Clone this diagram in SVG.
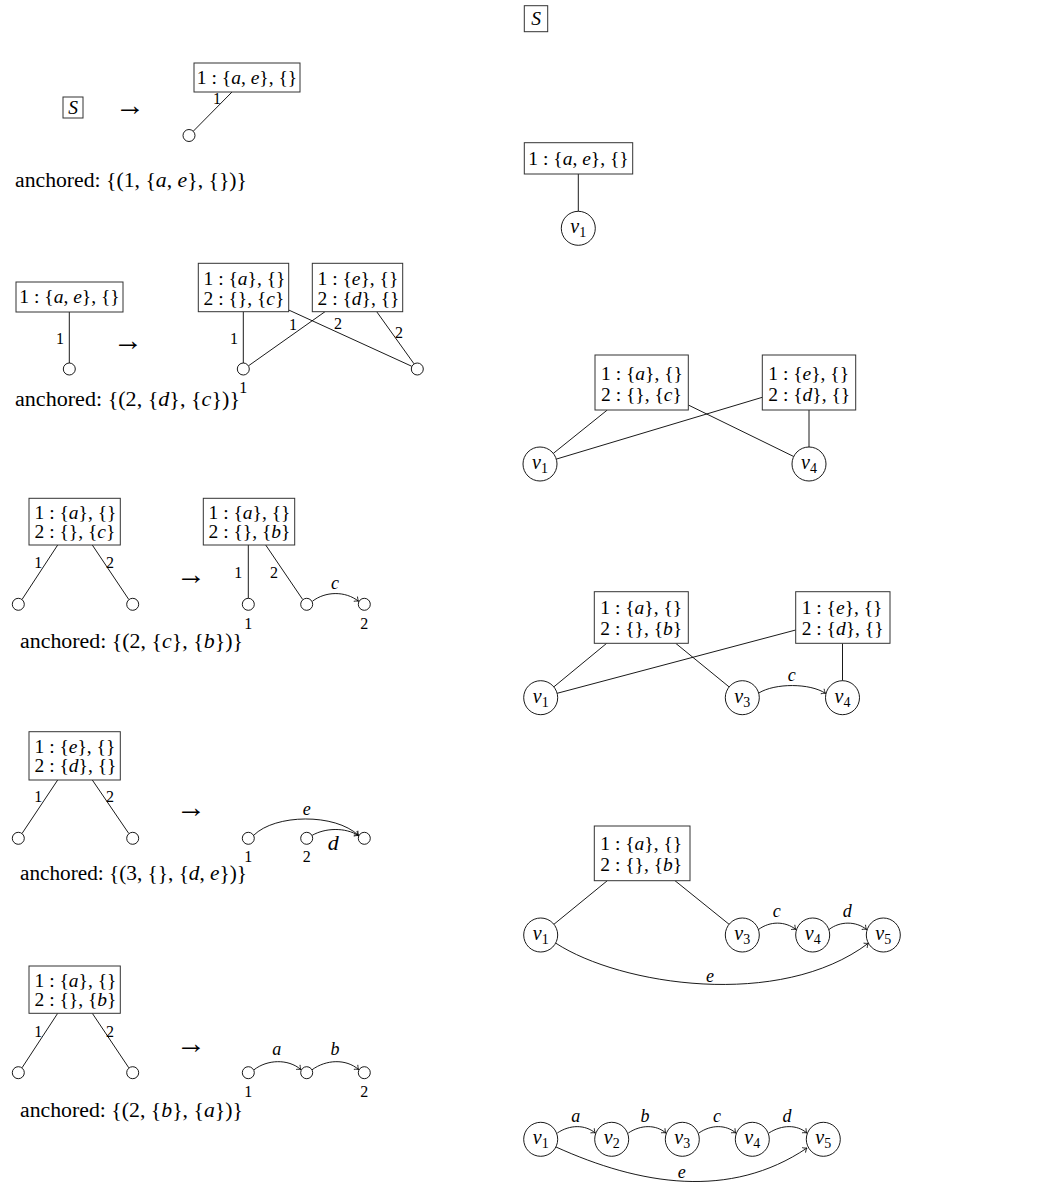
<svg xmlns="http://www.w3.org/2000/svg" width="1037" height="1182" viewBox="0 0 1037 1182">
<style>
.bg{fill:#fff}
.box{fill:#fff;stroke:#333;stroke-width:1}
.ln{fill:none;stroke:#000;stroke-width:0.9}
.arr{fill:none;stroke:#000;stroke-width:0.9;marker-end:url(#tip)}
.c{fill:#fff;stroke:#000;stroke-width:0.9}
text{font-family:"Liberation Serif","DejaVu Serif",serif;fill:#000}
.t{font-size:19.5px}
.an{font-size:20px}
.l{font-size:16px;text-anchor:middle}
.el{font-size:18px;font-style:italic;text-anchor:middle}
.v{font-size:20px;text-anchor:middle}
.sub{font-size:14px;font-style:normal}
.i{font-style:italic}
.to{font-size:30px;text-anchor:middle}
.m{text-anchor:middle}
</style>
<defs>
<marker id="tip" viewBox="-5 -4 6 8" refX="0" refY="0" markerWidth="6" markerHeight="8" markerUnits="userSpaceOnUse" orient="auto">
<path d="M-3.8,-3 C-2.2,-1.2 -0.8,-0.4 0,0 C-0.8,0.4 -2.2,1.2 -3.8,3" fill="none" stroke="#000" stroke-width="0.8"/>
</marker>
</defs>
<rect class="bg" x="0" y="0" width="1037" height="1182"/>

<!-- connectors -->
<g id="connectors">
<line class="ln" x1="232" y1="92" x2="193.3" y2="131.2"/>
<line class="ln" x1="69.3" y1="312" x2="69.3" y2="363"/>
<line class="ln" x1="243.3" y1="311.7" x2="243.3" y2="363"/>
<line class="ln" x1="325" y1="311.7" x2="248.5" y2="365.8"/>
<line class="ln" x1="288.7" y1="310" x2="411.8" y2="366.3"/>
<line class="ln" x1="376.7" y1="311.7" x2="414" y2="363.8"/>
<line class="ln" x1="57.7" y1="545" x2="22" y2="599.5"/>
<line class="ln" x1="92.3" y1="545" x2="128.8" y2="599.5"/>
<line class="ln" x1="248.3" y1="545" x2="248.3" y2="598.3"/>
<line class="ln" x1="265.7" y1="545" x2="302.7" y2="599.5"/>
<path class="arr" d="M312.5,601.2 C325,591.5 345,590.5 358.6,601.3"/>
<line class="ln" x1="57.7" y1="780" x2="22" y2="833.5"/>
<line class="ln" x1="92.3" y1="780" x2="128.8" y2="833.5"/>
<path class="arr" d="M253.7,835.3 C275,814 335,813 358.6,835.5"/>
<path class="arr" d="M312.2,835.3 C325,828 345,827 358.6,835.6"/>
<line class="ln" x1="57.7" y1="1013.3" x2="22" y2="1067.8"/>
<line class="ln" x1="92.3" y1="1013.3" x2="128.8" y2="1067.8"/>
<path class="arr" d="M254,1069.8 C267,1059.5 288,1058.5 301,1069.6"/>
<path class="arr" d="M312,1069.8 C326,1059.5 346,1058.5 358.7,1069.6"/>
<line class="ln" x1="578.3" y1="174" x2="578.3" y2="211.3"/>
<line class="ln" x1="607.3" y1="410" x2="553.3" y2="453.4"/>
<line class="ln" x1="762.3" y1="397.3" x2="556.3" y2="459.1"/>
<line class="ln" x1="688.3" y1="405" x2="793.7" y2="456.5"/>
<line class="ln" x1="809" y1="410" x2="809" y2="447"/>
<line class="ln" x1="606.7" y1="643.3" x2="553.8" y2="686.9"/>
<line class="ln" x1="795.7" y1="630" x2="557.1" y2="693.3"/>
<line class="ln" x1="675.7" y1="643.3" x2="729.1" y2="686.9"/>
<line class="ln" x1="842.5" y1="643.3" x2="842.5" y2="680.7"/>
<path class="arr" d="M758.8,693 C775,683 810,683 825.6,693.4"/>
<line class="ln" x1="607.3" y1="880.7" x2="553.9" y2="924.3"/>
<line class="ln" x1="675" y1="880.7" x2="729.1" y2="924.3"/>
<path class="arr" d="M758.5,929.5 C770,921 785,921 796,929.5"/>
<path class="arr" d="M829,929.5 C840,921 856,921 866.6,929.5"/>
<path class="arr" d="M556,943.3 C620,985 780,1010 868.4,943.2"/>
<path class="arr" d="M557.3,1133 C570,1124.5 585,1124.5 595.3,1133"/>
<path class="arr" d="M628.3,1133 C641,1124.5 656,1124.5 665.9,1133"/>
<path class="arr" d="M698.9,1133 C711,1124.5 726,1124.5 735.9,1133"/>
<path class="arr" d="M768.9,1133 C782,1124.5 797,1124.5 806.9,1133"/>
<path class="arr" d="M556,1147 C640,1185 730,1200 807,1148"/>
</g>

<!-- edge labels -->
<g id="edge-labels">
<text class="l" x="217" y="104">1</text>
<text class="l" x="60" y="343.5">1</text>
<text class="l" x="234" y="343.5">1</text>
<text class="l" x="293" y="329.5">1</text>
<text class="l" x="338" y="328.5">2</text>
<text class="l" x="399" y="337.5">2</text>
<text class="l" x="243.3" y="392.5">1</text>
<text class="l" x="38.3" y="567.5">1</text>
<text class="l" x="110" y="567.5">2</text>
<text class="l" x="238.3" y="577.5">1</text>
<text class="l" x="274" y="577.5">2</text>
<text class="el" x="335" y="589">c</text>
<text class="l" x="248.3" y="628.5">1</text>
<text class="l" x="364.3" y="628.5">2</text>
<text class="l" x="38.3" y="802">1</text>
<text class="l" x="110" y="802">2</text>
<text class="el" x="306.7" y="815">e</text>
<text class="el" x="333.3" y="850" style="font-size:22px">d</text>
<text class="l" x="248.3" y="862">1</text>
<text class="l" x="306.7" y="862">2</text>
<text class="l" x="38.3" y="1037">1</text>
<text class="l" x="110" y="1037">2</text>
<text class="el" x="276.7" y="1055">a</text>
<text class="el" x="335" y="1055">b</text>
<text class="l" x="248.3" y="1097">1</text>
<text class="l" x="364.3" y="1097">2</text>
<text class="el" x="791.7" y="681">c</text>
<text class="el" x="776.7" y="917">c</text>
<text class="el" x="847.3" y="917">d</text>
<text class="el" x="710" y="982">e</text>
<text class="el" x="575.7" y="1122">a</text>
<text class="el" x="645" y="1122">b</text>
<text class="el" x="717" y="1122">c</text>
<text class="el" x="787" y="1122">d</text>
<text class="el" x="681.7" y="1178">e</text>
</g>

<!-- arrows between stages -->
<g id="transitions">
<text class="to" x="130" y="115">→</text>
<text class="to" x="128" y="350">→</text>
<text class="to" x="191" y="584">→</text>
<text class="to" x="191" y="817">→</text>
<text class="to" x="191" y="1053">→</text>
</g>

<!-- anchored captions -->
<g id="captions">
<text class="an" x="15" y="187" textLength="232" lengthAdjust="spacingAndGlyphs">anchored: {(1, {<tspan class="i">a</tspan>, <tspan class="i">e</tspan>}, {})}</text>
<text class="an" x="15" y="406" textLength="225" lengthAdjust="spacingAndGlyphs">anchored: {(2, {<tspan class="i">d</tspan>}, {<tspan class="i">c</tspan>})}</text>
<text class="an" x="20" y="648" textLength="223" lengthAdjust="spacingAndGlyphs">anchored: {(2, {<tspan class="i">c</tspan>}, {<tspan class="i">b</tspan>})}</text>
<text class="an" x="20" y="879.5" textLength="227" lengthAdjust="spacingAndGlyphs">anchored: {(3, {}, {<tspan class="i">d</tspan>, <tspan class="i">e</tspan>})}</text>
<text class="an" x="20" y="1116.7" textLength="223" lengthAdjust="spacingAndGlyphs">anchored: {(2, {<tspan class="i">b</tspan>}, {<tspan class="i">a</tspan>})}</text>
</g>

<g id="L1-S"><rect class="box" x="63" y="97" width="20" height="21"/><text class="t m i" x="73" y="113.5">S</text></g>
<g id="L1-box"><rect class="box" x="194" y="63" width="106" height="29"/><text class="t m" x="247" y="84">1 : {<tspan class="i">a</tspan>, <tspan class="i">e</tspan>}, {}</text></g>
<g id="L1-n1"><circle class="c" cx="189" cy="135.5" r="6"/></g>

<g id="L2-box"><rect class="box" x="16" y="282" width="107" height="30"/><text class="t m" x="69.5" y="303">1 : {<tspan class="i">a</tspan>, <tspan class="i">e</tspan>}, {}</text></g>
<g id="L2-n"><circle class="c" cx="69.3" cy="369" r="6"/></g>
<g id="L2-boxA"><rect class="box" x="198.3" y="263.3" width="90.4" height="48.4"/><text class="t" x="203.5" y="285">1 : {<tspan class="i">a</tspan>}, {}</text><text class="t" x="203.5" y="305">2 : {}, {<tspan class="i">c</tspan>}</text></g>
<g id="L2-boxB"><rect class="box" x="312.3" y="263.3" width="90.4" height="48.4"/><text class="t" x="317.5" y="285">1 : {<tspan class="i">e</tspan>}, {}</text><text class="t" x="317.5" y="305">2 : {<tspan class="i">d</tspan>}, {}</text></g>
<g id="L2-n1"><circle class="c" cx="243.3" cy="369" r="6"/></g>
<g id="L2-n2"><circle class="c" cx="417.3" cy="369" r="6"/></g>

<g id="L3-box"><rect class="box" x="29" y="498.3" width="91.3" height="46.7"/><text class="t" x="34.5" y="519">1 : {<tspan class="i">a</tspan>}, {}</text><text class="t" x="34.5" y="538">2 : {}, {<tspan class="i">c</tspan>}</text></g>
<g id="L3-n1"><circle class="c" cx="18.3" cy="604.3" r="6"/></g>
<g id="L3-n2"><circle class="c" cx="132.7" cy="604.3" r="6"/></g>
<g id="L3-boxR"><rect class="box" x="203.3" y="498.3" width="91.4" height="46.7"/><text class="t" x="208.5" y="519">1 : {<tspan class="i">a</tspan>}, {}</text><text class="t" x="208.5" y="538">2 : {}, {<tspan class="i">b</tspan>}</text></g>
<g id="L3-r1"><circle class="c" cx="248.3" cy="604.3" r="6"/></g>
<g id="L3-r2"><circle class="c" cx="306.7" cy="604.3" r="6"/></g>
<g id="L3-r3"><circle class="c" cx="364.3" cy="604.3" r="6"/></g>

<g id="L4-box"><rect class="box" x="29" y="731.7" width="91.3" height="48.3"/><text class="t" x="34.5" y="752.5">1 : {<tspan class="i">e</tspan>}, {}</text><text class="t" x="34.5" y="771.5">2 : {<tspan class="i">d</tspan>}, {}</text></g>
<g id="L4-n1"><circle class="c" cx="18.3" cy="838.3" r="6"/></g>
<g id="L4-n2"><circle class="c" cx="132.7" cy="838.3" r="6"/></g>
<g id="L4-r1"><circle class="c" cx="248.3" cy="838.3" r="6"/></g>
<g id="L4-r2"><circle class="c" cx="306.7" cy="838.3" r="6"/></g>
<g id="L4-r3"><circle class="c" cx="364.3" cy="838.3" r="6"/></g>

<g id="L5-box"><rect class="box" x="29" y="966" width="91.3" height="47.3"/><text class="t" x="34.5" y="987">1 : {<tspan class="i">a</tspan>}, {}</text><text class="t" x="34.5" y="1006">2 : {}, {<tspan class="i">b</tspan>}</text></g>
<g id="L5-n1"><circle class="c" cx="18.3" cy="1072.7" r="6"/></g>
<g id="L5-n2"><circle class="c" cx="132.7" cy="1072.7" r="6"/></g>
<g id="L5-r1"><circle class="c" cx="248.3" cy="1072.7" r="6"/></g>
<g id="L5-r2"><circle class="c" cx="306.7" cy="1072.7" r="6"/></g>
<g id="L5-r3"><circle class="c" cx="364.3" cy="1072.7" r="6"/></g>

<g id="R0-S"><rect class="box" x="524.3" y="5.7" width="23.4" height="26"/><text class="t m i" x="536" y="25">S</text></g>
<g id="R1-box"><rect class="box" x="524.3" y="142.7" width="108.4" height="31.3"/><text class="t m" x="578.5" y="165">1 : {<tspan class="i">a</tspan>, <tspan class="i">e</tspan>}, {}</text></g>
<g id="R1-v1"><circle class="c" cx="578.3" cy="228.3" r="17"/><text class="v" x="578.3" y="233"><tspan class="i">v</tspan><tspan class="sub" dy="4">1</tspan></text></g>

<g id="R2-boxA"><rect class="box" x="595" y="355" width="93.3" height="55"/><text class="t" x="601" y="379.5">1 : {<tspan class="i">a</tspan>}, {}</text><text class="t" x="601" y="401">2 : {}, {<tspan class="i">c</tspan>}</text></g>
<g id="R2-boxB"><rect class="box" x="762.3" y="355" width="93.4" height="55"/><text class="t" x="768.3" y="379.5">1 : {<tspan class="i">e</tspan>}, {}</text><text class="t" x="768.3" y="401">2 : {<tspan class="i">d</tspan>}, {}</text></g>
<g id="R2-v1"><circle class="c" cx="540" cy="464" r="17"/><text class="v" x="540" y="469"><tspan class="i">v</tspan><tspan class="sub" dy="4">1</tspan></text></g>
<g id="R2-v4"><circle class="c" cx="809" cy="464" r="17"/><text class="v" x="809" y="469"><tspan class="i">v</tspan><tspan class="sub" dy="4">4</tspan></text></g>

<g id="R3-boxA"><rect class="box" x="594.3" y="591.7" width="94" height="51.6"/><text class="t" x="600.3" y="613.5">1 : {<tspan class="i">a</tspan>}, {}</text><text class="t" x="600.3" y="634.5">2 : {}, {<tspan class="i">b</tspan>}</text></g>
<g id="R3-boxB"><rect class="box" x="795.7" y="591.7" width="94.3" height="51.6"/><text class="t" x="801.7" y="613.5">1 : {<tspan class="i">e</tspan>}, {}</text><text class="t" x="801.7" y="634.5">2 : {<tspan class="i">d</tspan>}, {}</text></g>
<g id="R3-v1"><circle class="c" cx="540.7" cy="697.7" r="17"/><text class="v" x="540.7" y="702.7"><tspan class="i">v</tspan><tspan class="sub" dy="4">1</tspan></text></g>
<g id="R3-v3"><circle class="c" cx="742.3" cy="697.7" r="17"/><text class="v" x="742.3" y="702.7"><tspan class="i">v</tspan><tspan class="sub" dy="4">3</tspan></text></g>
<g id="R3-v4"><circle class="c" cx="842.5" cy="697.7" r="17"/><text class="v" x="842.5" y="702.7"><tspan class="i">v</tspan><tspan class="sub" dy="4">4</tspan></text></g>

<g id="R4-box"><rect class="box" x="594.3" y="826" width="95.7" height="54.7"/><text class="t" x="600.3" y="849.5">1 : {<tspan class="i">a</tspan>}, {}</text><text class="t" x="600.3" y="871">2 : {}, {<tspan class="i">b</tspan>}</text></g>
<g id="R4-v1"><circle class="c" cx="540.7" cy="935" r="17"/><text class="v" x="540.7" y="940"><tspan class="i">v</tspan><tspan class="sub" dy="4">1</tspan></text></g>
<g id="R4-v3"><circle class="c" cx="742.3" cy="935" r="17"/><text class="v" x="742.3" y="940"><tspan class="i">v</tspan><tspan class="sub" dy="4">3</tspan></text></g>
<g id="R4-v4"><circle class="c" cx="812.7" cy="935" r="17"/><text class="v" x="812.7" y="940"><tspan class="i">v</tspan><tspan class="sub" dy="4">4</tspan></text></g>
<g id="R4-v5"><circle class="c" cx="883.3" cy="935" r="17"/><text class="v" x="883.3" y="940"><tspan class="i">v</tspan><tspan class="sub" dy="4">5</tspan></text></g>

<g id="R5-v1"><circle class="c" cx="540.7" cy="1139.3" r="17"/><text class="v" x="540.7" y="1144.3"><tspan class="i">v</tspan><tspan class="sub" dy="4">1</tspan></text></g>
<g id="R5-v2"><circle class="c" cx="611.7" cy="1139.3" r="17"/><text class="v" x="611.7" y="1144.3"><tspan class="i">v</tspan><tspan class="sub" dy="4">2</tspan></text></g>
<g id="R5-v3"><circle class="c" cx="682.3" cy="1139.3" r="17"/><text class="v" x="682.3" y="1144.3"><tspan class="i">v</tspan><tspan class="sub" dy="4">3</tspan></text></g>
<g id="R5-v4"><circle class="c" cx="752.3" cy="1139.3" r="17"/><text class="v" x="752.3" y="1144.3"><tspan class="i">v</tspan><tspan class="sub" dy="4">4</tspan></text></g>
<g id="R5-v5"><circle class="c" cx="823.3" cy="1139.3" r="17"/><text class="v" x="823.3" y="1144.3"><tspan class="i">v</tspan><tspan class="sub" dy="4">5</tspan></text></g>
</svg>
